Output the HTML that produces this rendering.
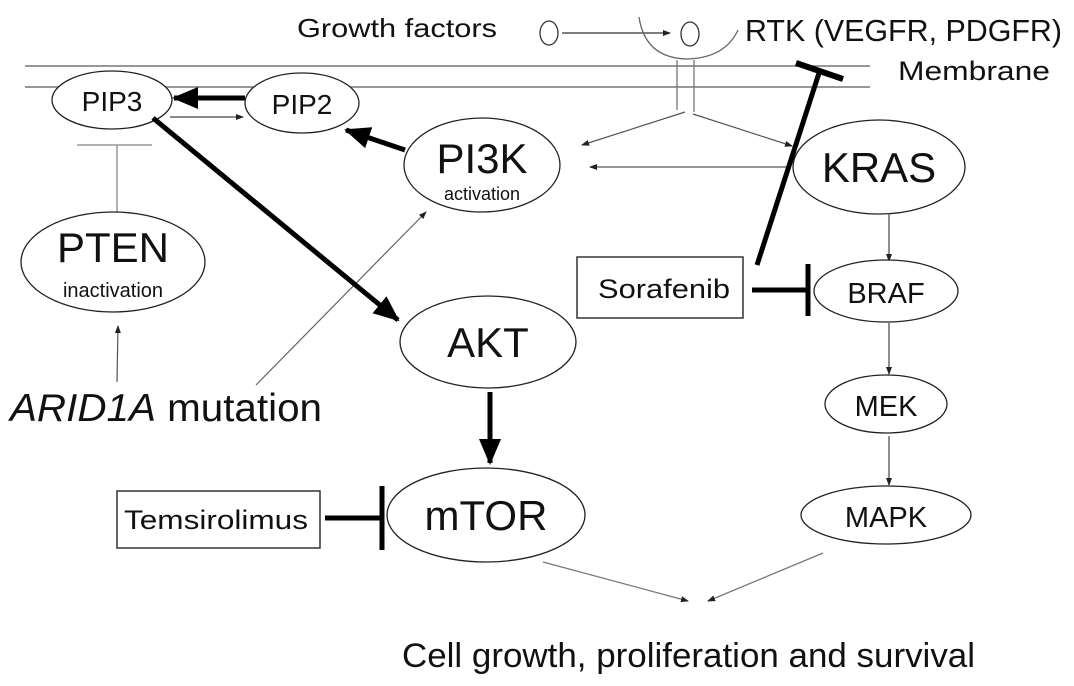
<!DOCTYPE html>
<html><head><meta charset="utf-8"><style>
html,body{margin:0;padding:0;background:#fff;}
svg{display:block;}
text{font-family:"Liberation Sans",sans-serif;fill:#111;}
</style></head><body>
<svg width="1074" height="686" viewBox="0 0 1074 686" xmlns="http://www.w3.org/2000/svg">
<defs>
<marker id="a" markerWidth="8" markerHeight="8" refX="7" refY="4" orient="auto" markerUnits="userSpaceOnUse"><path d="M0,1 L8,4 L0,7 Z" fill="#222"/></marker>
<marker id="b" markerWidth="26" markerHeight="22" refX="24" refY="11" orient="auto" markerUnits="userSpaceOnUse"><path d="M0,0 L26,11 L0,22 Z" fill="#000"/></marker>
</defs>
<line x1="25" y1="66" x2="870" y2="66" stroke="#777" stroke-width="1.5"/>
<line x1="25" y1="87" x2="870" y2="87" stroke="#777" stroke-width="1.5"/>
<text x="297" y="37" font-size="26" textLength="200" lengthAdjust="spacingAndGlyphs">Growth factors</text>
<text x="898" y="80" font-size="27" textLength="152" lengthAdjust="spacingAndGlyphs">Membrane</text>
<text x="745" y="41" font-size="31" textLength="317" lengthAdjust="spacingAndGlyphs">RTK (VEGFR, PDGFR)</text>
<ellipse cx="549" cy="33" rx="9" ry="12" fill="none" stroke="#333" stroke-width="1.3"/>
<line x1="562" y1="33" x2="670" y2="33" stroke="#333" stroke-width="1.2" marker-end="url(#a)"/>
<ellipse cx="690" cy="34" rx="9" ry="12" fill="none" stroke="#333" stroke-width="1.3"/>
<path d="M639,17 Q645,58 687,59 Q725,58 738,30" fill="none" stroke="#666" stroke-width="1.3"/>
<line x1="677" y1="60" x2="677" y2="110" stroke="#777" stroke-width="1.3"/>
<line x1="694" y1="60" x2="694" y2="112" stroke="#777" stroke-width="1.3"/>
<ellipse cx="112" cy="100" rx="60" ry="29" fill="#fff" stroke="#222" stroke-width="1.3"/>
<text x="112" y="111" font-size="28" text-anchor="middle">PIP3</text>
<ellipse cx="302" cy="103" rx="57" ry="30" fill="#fff" stroke="#222" stroke-width="1.3"/>
<text x="302" y="114" font-size="28" text-anchor="middle">PIP2</text>
<line x1="245" y1="98" x2="174" y2="98" stroke="#000" stroke-width="5" marker-end="url(#b)"/>
<line x1="170" y1="117" x2="243" y2="117" stroke="#444" stroke-width="1.2" marker-end="url(#a)"/>
<ellipse cx="482" cy="165" rx="78" ry="47" fill="#fff" stroke="#222" stroke-width="1.3"/>
<text x="482" y="173" font-size="42" text-anchor="middle">PI3K</text>
<text x="482" y="200" font-size="18" text-anchor="middle">activation</text>
<line x1="405" y1="150" x2="346" y2="130" stroke="#000" stroke-width="5" marker-end="url(#b)"/>
<line x1="685" y1="112" x2="582" y2="145" stroke="#555" stroke-width="1.2" marker-end="url(#a)"/>
<line x1="693" y1="114" x2="792" y2="146" stroke="#555" stroke-width="1.2" marker-end="url(#a)"/>
<line x1="789" y1="167" x2="590" y2="167" stroke="#555" stroke-width="1.2" marker-end="url(#a)"/>
<ellipse cx="879" cy="167" rx="86" ry="47" fill="#fff" stroke="#222" stroke-width="1.3"/>
<text x="879" y="182" font-size="42" text-anchor="middle">KRAS</text>
<line x1="757" y1="265" x2="820" y2="70" stroke="#000" stroke-width="5"/>
<line x1="796" y1="63" x2="843" y2="79" stroke="#000" stroke-width="6"/>
<rect x="577" y="257" width="166" height="61" fill="#fff" stroke="#333" stroke-width="1.5"/>
<text x="598" y="298" font-size="27" textLength="132" lengthAdjust="spacingAndGlyphs">Sorafenib</text>
<line x1="752" y1="290" x2="808" y2="290" stroke="#000" stroke-width="5"/>
<line x1="808" y1="264" x2="808" y2="316" stroke="#000" stroke-width="5"/>
<line x1="889" y1="214" x2="889" y2="261" stroke="#444" stroke-width="1.2" marker-end="url(#a)"/>
<ellipse cx="886" cy="291" rx="72" ry="31" fill="#fff" stroke="#222" stroke-width="1.3"/>
<text x="886" y="303" font-size="29" text-anchor="middle">BRAF</text>
<line x1="889" y1="323" x2="889" y2="374" stroke="#444" stroke-width="1.2" marker-end="url(#a)"/>
<ellipse cx="886" cy="404" rx="61" ry="29" fill="#fff" stroke="#222" stroke-width="1.3"/>
<text x="886" y="416" font-size="29" text-anchor="middle">MEK</text>
<line x1="889" y1="436" x2="889" y2="485" stroke="#444" stroke-width="1.2" marker-end="url(#a)"/>
<ellipse cx="886" cy="515" rx="85" ry="29" fill="#fff" stroke="#222" stroke-width="1.3"/>
<text x="886" y="527" font-size="29" text-anchor="middle">MAPK</text>
<line x1="77" y1="145" x2="152" y2="145" stroke="#999" stroke-width="1.5"/>
<line x1="117" y1="145" x2="117" y2="212" stroke="#999" stroke-width="1.5"/>
<ellipse cx="113" cy="262" rx="92" ry="50" fill="#fff" stroke="#222" stroke-width="1.3"/>
<text x="113" y="262" font-size="42" text-anchor="middle">PTEN</text>
<text x="113" y="297" font-size="20" text-anchor="middle">inactivation</text>
<line x1="117" y1="382" x2="118" y2="326" stroke="#555" stroke-width="1.2" marker-end="url(#a)"/>
<text x="10" y="421" font-size="39" textLength="312" lengthAdjust="spacingAndGlyphs"><tspan font-style="italic">ARID1A</tspan> mutation</text>
<line x1="256" y1="385" x2="426" y2="212" stroke="#666" stroke-width="1.2" marker-end="url(#a)"/>
<line x1="153" y1="118" x2="398" y2="320" stroke="#000" stroke-width="5" marker-end="url(#b)"/>
<ellipse cx="488" cy="342" rx="88" ry="46" fill="#fff" stroke="#222" stroke-width="1.3"/>
<text x="488" y="357" font-size="42" text-anchor="middle">AKT</text>
<line x1="490" y1="392" x2="490" y2="463" stroke="#000" stroke-width="5" marker-end="url(#b)"/>
<ellipse cx="486" cy="515" rx="99" ry="47" fill="#fff" stroke="#222" stroke-width="1.3"/>
<text x="486" y="530" font-size="42" text-anchor="middle">mTOR</text>
<rect x="117" y="491" width="203" height="57" fill="#fff" stroke="#333" stroke-width="1.5"/>
<text x="124" y="529" font-size="27" textLength="184" lengthAdjust="spacingAndGlyphs">Temsirolimus</text>
<line x1="325" y1="518" x2="382" y2="518" stroke="#000" stroke-width="5"/>
<line x1="382" y1="486" x2="382" y2="550" stroke="#000" stroke-width="5"/>
<line x1="543" y1="562" x2="688" y2="601" stroke="#777" stroke-width="1.3" marker-end="url(#a)"/>
<line x1="823" y1="553" x2="708" y2="601" stroke="#777" stroke-width="1.3" marker-end="url(#a)"/>
<text x="402" y="667" font-size="34" textLength="573" lengthAdjust="spacingAndGlyphs">Cell growth, proliferation and survival</text>
</svg>
</body></html>
